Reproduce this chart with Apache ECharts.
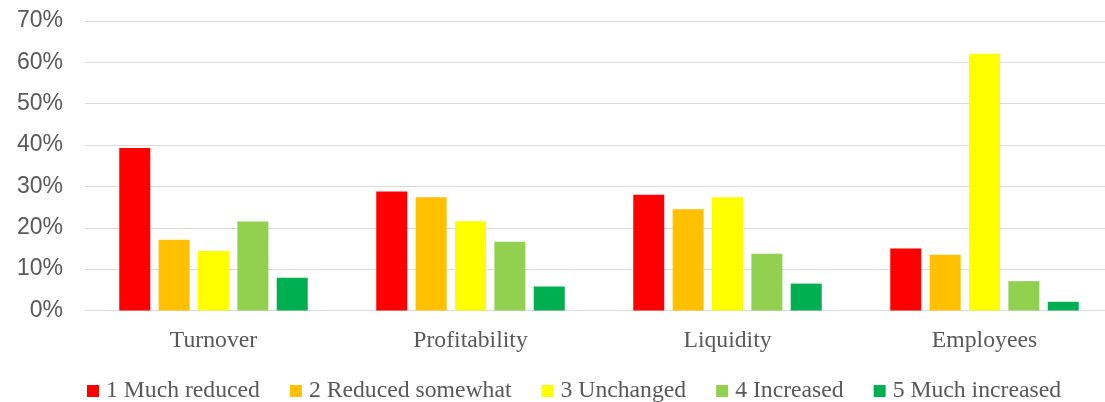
<!DOCTYPE html>
<html>
<head>
<meta charset="utf-8">
<script src="https://cdn.jsdelivr.net/npm/echarts@6/dist/echarts.min.js"></script>
<style>
  html, body { margin: 0; padding: 0; background: #ffffff; overflow: hidden; }
  /* the plot runs slightly past the right edge of the window */
  #chart { width: 1113px; height: 402px; }
</style>
</head>
<body>
<div id="chart"></div>
<script>
// Share of firms reporting each level of change, per business indicator
const categories = ['Turnover', 'Profitability', 'Liquidity', 'Employees'];
const seriesNames = ['1 Much reduced', '2 Reduced somewhat', '3 Unchanged', '4 Increased', '5 Much increased'];
const muchReduced     = [0.393, 0.288, 0.280, 0.150];
const reducedSomewhat = [0.171, 0.274, 0.245, 0.135];
const unchanged       = [0.144, 0.216, 0.274, 0.621];
const increased       = [0.215, 0.166, 0.137, 0.071];
const muchIncreased   = [0.079, 0.058, 0.065, 0.021];
const yTicks = [0, 0.1, 0.2, 0.3, 0.4, 0.5, 0.6, 0.7];

const values = [muchReduced, reducedSomewhat, unchanged, increased, muchIncreased];
const colors = ['#FF0000', '#FFC000', '#FFFF00', '#92D050', '#00B050'];

const serif = '"Liberation Serif", "Times New Roman", serif';
const sans = '"Liberation Sans", Arial, sans-serif';
const textGrey = '#595959';

const chart = echarts.init(document.getElementById('chart'), null, { renderer: 'canvas' });

chart.setOption({
  animation: false,
  backgroundColor: '#ffffff',
  grid: { left: 85, top: 21, right: 0, height: 289.5, containLabel: false },
  legend: {
    data: seriesNames,
    left: 82,
    top: 374,
    icon: 'rect',
    itemWidth: 12,
    itemHeight: 12,
    itemGap: 30,
    textStyle: { fontFamily: serif, fontSize: 23.7, color: textGrey, padding: [0, 0, 0, 2] }
  },
  xAxis: {
    type: 'category',
    data: categories,
    axisLine: { show: true, lineStyle: { color: '#d9d9d9', width: 1 } },
    axisTick: { show: false },
    axisLabel: { fontFamily: serif, fontSize: 23.7, color: textGrey, margin: 18 }
  },
  yAxis: {
    type: 'value',
    min: yTicks[0],
    max: yTicks[yTicks.length - 1],
    interval: 0.1,
    axisLine: { show: false },
    axisTick: { show: false },
    splitLine: { show: true, lineStyle: { color: '#d9d9d9', width: 1 } },
    axisLabel: {
      fontFamily: sans,
      fontSize: 23,
      color: textGrey,
      margin: 22,
      formatter: v => Math.round(v * 100) + '%'
    }
  },
  series: seriesNames.map((name, i) => ({
    name: name,
    type: 'bar',
    data: values[i],
    barWidth: 31,
    barGap: '27%',
    itemStyle: { color: colors[i] }
  }))
});
</script>
</body>
</html>
